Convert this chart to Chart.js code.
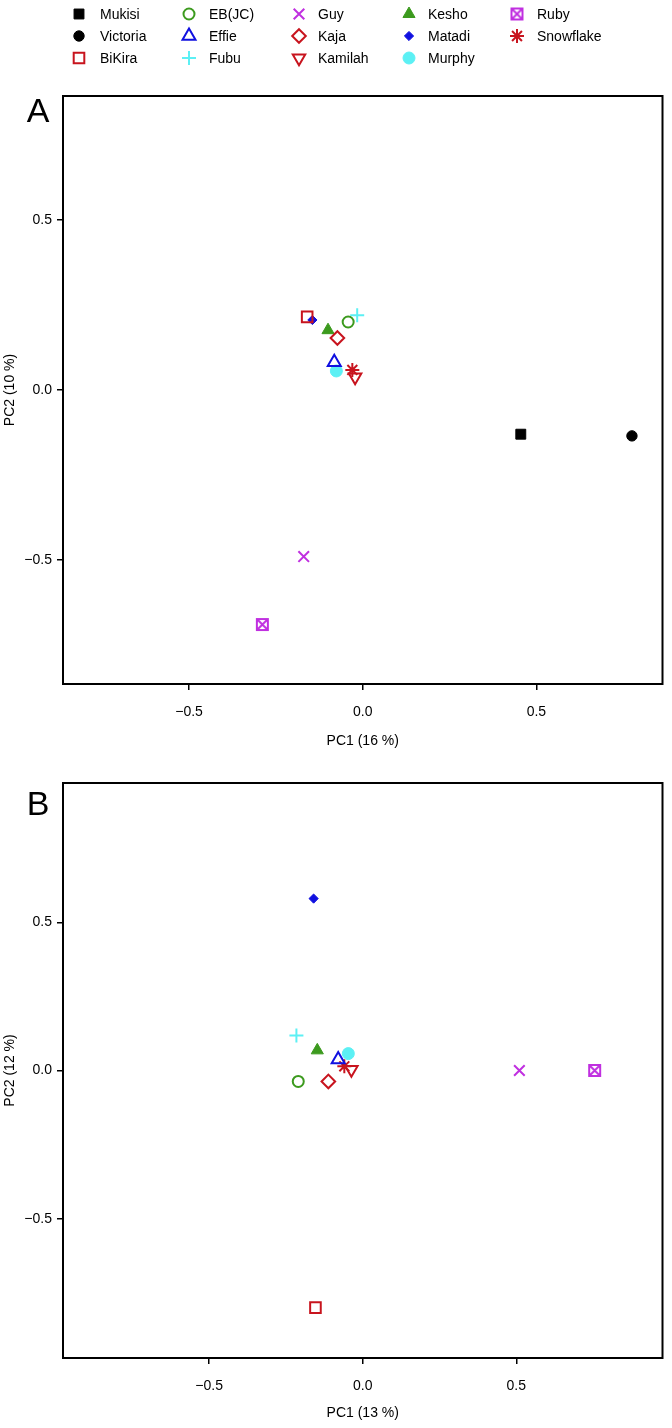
<!DOCTYPE html>
<html><head><meta charset="utf-8">
<script src="https://cdn.jsdelivr.net/npm/chart.js"></script>
<style>
html,body{margin:0;padding:0;background:#fff;}
#ca{position:absolute;left:0;top:0;}
#cb{position:absolute;left:0;top:760px;}
</style></head><body>
<canvas id="ca" width="672" height="760"></canvas>
<canvas id="cb" width="672" height="668"></canvas>
<script>
// ---- data ----
const animals = ['Mukisi','Victoria','BiKira','EB(JC)','Effie','Fubu','Guy','Kaja','Kamilah','Kesho','Matadi','Murphy','Ruby','Snowflake'];
const pc1A = [0.455, 0.775, -0.160, -0.042, -0.082, -0.016, -0.170, -0.073, -0.022, -0.100, -0.145, -0.076, -0.289, -0.030];
const pc2A = [-0.130, -0.135, 0.215, 0.200, 0.082, 0.220, -0.490, 0.153, 0.038, 0.176, 0.206, 0.056, -0.690, 0.059];
const pc1B = [null, null, -0.154, -0.210, -0.080, -0.216, 0.510, -0.112, -0.037, -0.148, -0.160, -0.047, 0.755, -0.060];
const pc2B = [null, null, -0.800, -0.037, 0.037, 0.118, 0.000, -0.037, 0.003, 0.068, 0.580, 0.057, 0.000, 0.014];
const tickValues = [-0.5, 0, 0.5];
const titlesA = ['PC1 (16 %)', 'PC2 (10 %)'];
const titlesB = ['PC1 (13 %)', 'PC2 (12 %)'];

// ---- styles ----
const RED = '#c8141e', GREEN = '#3c9a1e', BLUE = '#1010e0', CYAN = '#5cf0f4', MAG = '#c030e0';
const colors = ['#000000','#000000',RED,GREEN,BLUE,CYAN,MAG,RED,RED,GREEN,BLUE,CYAN,MAG,RED];
const shapes = ['rect','circle','rect','circle','triangle','cross','crossRot','rectRot','triangle','triangle','rectRot','circle','ruby','star'];
const filled = [true,true,false,false,false,false,false,false,false,true,true,true,false,false];
const radii  = [7,5.2,7.5,5.5,7.5,7,7.5,6.8,7.2,7,4.6,6,7,7];
const rots   = [0,0,0,0,0,0,0,0,180,0,0,0,0,0];
const FONT = 'Liberation Sans, Arial, Helvetica, sans-serif';

function rubyMarker(color){
  const c = document.createElement('canvas'); c.width = 15; c.height = 15;
  const g = c.getContext('2d'); g.strokeStyle = color; g.lineWidth = 2;
  g.strokeRect(2,2,11,11);
  g.beginPath(); g.moveTo(2,2); g.lineTo(13,13); g.moveTo(13,2); g.lineTo(2,13); g.stroke();
  return c;
}
const rubyImg = rubyMarker(MAG);
function styleOf(i){ return shapes[i] === 'ruby' ? rubyImg : shapes[i]; }
function fmt(v){ if (Math.abs(v) < 1e-9) return '0.0'; return (v < 0 ? '\u2212' : '') + Math.abs(v).toFixed(1); }

function makeDatasets(xs, ys){
  return animals.map((name, i) => ({
    label: name,
    data: (xs[i] === null) ? [] : [{x: xs[i], y: ys[i]}],
    pointStyle: styleOf(i),
    pointRadius: radii[i],
    pointRotation: rots[i],
    backgroundColor: filled[i] ? colors[i] : 'rgba(0,0,0,0)',
    borderColor: colors[i],
    borderWidth: filled[i] ? 1 : 2,
    showLine: false
  }));
}

function overlay(letter, letterY, withLegend){
  return {
    id: 'overlay',
    afterDraw(chart){
      const ctx = chart.ctx, a = chart.chartArea;
      ctx.save();
      ctx.strokeStyle = '#000'; ctx.lineWidth = 2;
      ctx.strokeRect(a.left, a.top, a.right - a.left, a.bottom - a.top);
      ctx.fillStyle = '#000';
      ctx.font = '34px ' + FONT; ctx.textAlign = 'center'; ctx.textBaseline = 'middle';
      ctx.fillText(letter, 38, letterY);
      if (withLegend){
        const mx = [79,189,299,409,517], tx = [100,209,318,428,537], ry = [14,36,58];
        ctx.font = '14px ' + FONT; ctx.textAlign = 'left';
        animals.forEach((name, i) => {
          const col = Math.floor(i/3), row = i % 3;
          ctx.fillStyle = filled[i] ? colors[i] : 'rgba(0,0,0,0)';
          ctx.strokeStyle = colors[i];
          ctx.lineWidth = filled[i] ? 1 : 2;
          Chart.helpers.drawPoint(ctx, {pointStyle: styleOf(i), rotation: rots[i], radius: radii[i], borderWidth: ctx.lineWidth}, mx[col], ry[row]);
          ctx.fillStyle = '#000';
          ctx.fillText(name, tx[col], ry[row] + 1);
        });
      }
      ctx.restore();
    }
  };
}

function axisOpts(min, max, isX, title, xAxisH, titlePad){
  const o = {
    type: 'linear', min: min, max: max,
    afterBuildTicks: s => { s.ticks = tickValues.map(v => ({value: v})); },
    grid: {display: true, drawOnChartArea: false, drawTicks: true, tickLength: 6, color: '#000', lineWidth: 1.5},
    border: {display: false},
    ticks: {color: '#000', font: {family: FONT, size: 14}, callback: v => fmt(v), autoSkip: false, maxRotation: 0, minRotation: 0, padding: isX ? 14 : 5},
    title: {display: true, text: title, color: '#000', font: {family: FONT, size: 14}, padding: isX ? {top: 0, bottom: titlePad} : {top: titlePad, bottom: 0}}
  };
  if (isX) o.afterFit = s => { s.height = xAxisH; };
  else o.afterFit = s => { s.width = 63; };
  return o;
}

function makeChart(id, xs, ys, xr, yr, titles, letter, letterY, padTop, xAxisH, xTitlePad, withLegend){
  return new Chart(document.getElementById(id), {
    type: 'scatter',
    data: {datasets: makeDatasets(xs, ys)},
    options: {
      responsive: false, animation: false,
      layout: {padding: {top: padTop, right: 8, left: 0, bottom: 0}},
      plugins: {legend: {display: false}, tooltip: {enabled: false}},
      scales: {
        x: axisOpts(-xr, xr, true, titles[0], xAxisH, xTitlePad),
        y: axisOpts(yr[0], yr[1], false, titles[1], 0, 1.6)
      }
    },
    plugins: [overlay(letter, letterY, withLegend)]
  });
}

makeChart('ca', pc1A, pc2A, 0.863, [-0.865, 0.865], titlesA, 'A', 113, 96, 76, 10.6, true);
makeChart('cb', pc1B, pc2B, 0.976, [-0.97, 0.97], titlesB, 'B', 46, 23, 70, 6.6, false);
</script>
</body></html>
